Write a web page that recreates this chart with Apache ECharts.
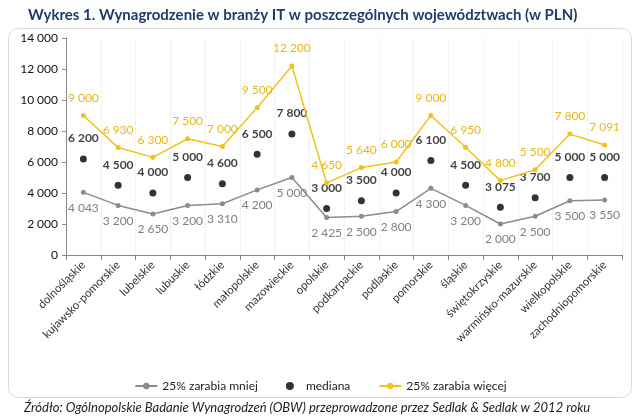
<!DOCTYPE html>
<html><head><meta charset="utf-8">
<script src="https://cdn.jsdelivr.net/npm/echarts@6/dist/echarts.min.js"></script>
<style>html,body{margin:0;padding:0;background:#fff}#c{width:641px;height:420px}</style>
</head><body><div id="c"></div>
<script>
const categories = ['dolnośląskie','kujawsko-pomorskie','lubelskie','lubuskie','łódzkie','małopolskie','mazowieckie','opolskie','podkarpackie','podlaskie','pomorskie','śląskie','świętokrzyskie','warmińsko-mazurskie','wielkopolskie','zachodniopomorskie'];
const lower = [4043,3200,2650,3200,3310,4200,5000,2425,2500,2800,4300,3200,2000,2500,3500,3550];
const median = [6200,4500,4000,5000,4600,6500,7800,3000,3500,4000,6100,4500,3075,3700,5000,5000];
const upper = [9000,6930,6300,7500,7000,9500,12200,4650,5640,6000,9000,6950,4800,5500,7800,7091];
const seriesNames = ['25% zarabia mniej','mediana','25% zarabia więcej'];

const FONT = 'Lato';
const fmt = v => String(v).replace(/\B(?=(\d{3})+(?!\d))/g, '\u2005');
const lab = p => fmt(p.value);

const chart = echarts.init(document.getElementById('c'));
chart.setOption({
  animation: false,
  textStyle: {fontFamily: FONT},
  title: {
    text: 'Wykres 1. Wynagrodzenie w branży IT w poszczególnych województwach (w PLN)',
    left: 23, top: 3,
    textStyle: {fontFamily: FONT, fontSize: 15, fontWeight: 'bold', color: '#1f3d6b'}
  },
  graphic: [
    {type: 'rect', shape: {x: 8.5, y: 28.5, width: 623, height: 369, r: 10}, style: {fill: 'none', stroke: '#d9d9d9', lineWidth: 1}, z: -1},
    {type: 'text', left: 24, top: 401, style: {text: 'Źródło: Ogólnopolskie Badanie Wynagrodzeń (OBW) przeprowadzone przez Sedlak & Sedlak w 2012 roku', font: 'italic 13px Lato', fill: '#222'}}
  ],
  legend: {
    top: 375, left: 'center',
    itemGap: 28, itemWidth: 22, itemHeight: 8,
    textStyle: {fontFamily: FONT, fontSize: 12, color: '#222'},
    data: seriesNames
  },
  grid: {left: 66, right: 19, top: 38, bottom: 165},
  xAxis: {
    type: 'category', data: categories, boundaryGap: true,
    axisLine: {lineStyle: {color: '#888'}},
    axisTick: {show: true, alignWithLabel: false, lineStyle: {color: '#888'}, length: 5},
    axisLabel: {rotate: 45, fontSize: 11.5, color: '#333', interval: 0, margin: 8, fontFamily: FONT},
    splitLine: {show: true, lineStyle: {color: '#e6e6e6', type: 'dotted'}}
  },
  yAxis: {
    type: 'value', min: 0, max: 14000, interval: 2000,
    axisLine: {show: true, lineStyle: {color: '#888'}},
    axisTick: {show: true, lineStyle: {color: '#888'}, length: 4},
    axisLabel: {fontSize: 12, color: '#111', formatter: v => fmt(v), margin: 8, fontFamily: FONT},
    splitLine: {show: false}
  },
  series: [
    {
      name: seriesNames[0], type: 'line', data: lower,
      symbol: 'circle', symbolSize: 5,
      lineStyle: {color: '#8c8c8c', width: 1.5},
      itemStyle: {color: '#8c8c8c'},
      label: {show: true, position: 'bottom', distance: 7, color: '#808080', fontSize: 12, formatter: lab}
    },
    {
      name: seriesNames[1], type: 'scatter', data: median,
      symbol: 'circle', symbolSize: 7,
      itemStyle: {color: '#000'},
      label: {show: true, position: 'top', distance: 11, color: '#111', fontSize: 12, fontWeight: 'bold', formatter: lab}
    },
    {
      name: seriesNames[2], type: 'line', data: upper,
      symbol: 'circle', symbolSize: 5,
      lineStyle: {color: '#f2c21b', width: 1.5},
      itemStyle: {color: '#f2c21b'},
      label: {show: true, position: 'top', distance: 9, color: '#e8b810', fontSize: 12, formatter: lab}
    }
  ]
});
</script></body></html>
